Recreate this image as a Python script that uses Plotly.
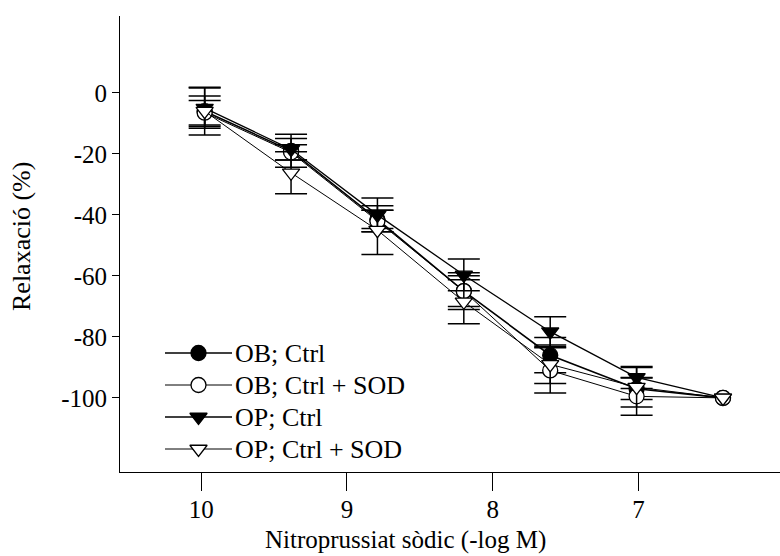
import plotly.graph_objects as go

# Data
conc = [10, 9.5, 9, 8.5, 8, 7.5, 7]
ob_ctrl = [-6, -19, -41.5, -65, -86, -97, -100]
ob_ctrl_err = [5, 5.4, 3, 5, 5.8, 3.5, None]
ob_sod = [-6.5, -19.5, -42, -65, -91, -99.5, -100]
ob_sod_err = [4, 2.5, 3.5, 6, 7.4, 6.2, None]
op_ctrl = [-5, -18.5, -40, -59.7, -78.3, -93.3, -100]
op_ctrl_err = [6.6, 3.5, 5.5, 5.2, 4.9, 3.6, None]
op_sod = [-6, -26.2, -45, -68.5, -89, -96.5, -100]
op_sod_err = [7.8, 6.9, 8, 7.2, 6.3, 6.5, None]

names = ["OB; Ctrl", "OB; Ctrl + SOD", "OP; Ctrl", "OP; Ctrl + SOD"]
tick_text = ["10", "9", "8", "7"]
y_ticks = [0, -20, -40, -60, -80, -100]

FONT = "Liberation Serif"
series = [
    (ob_ctrl, ob_ctrl_err, "circle", "black", 1.6),
    (ob_sod, ob_sod_err, "circle", "white", 1.0),
    (op_ctrl, op_ctrl_err, "triangle-down", "black", 1.3),
    (op_sod, op_sod_err, "triangle-down", "white", 1.0),
]

# plot area in pixels (used for layout only)
L, R, T, B = 120, 780, 16, 472
W, H = 780, 556

fig = go.Figure()
for (vals, errs, sym, fill, lw), nm in zip(series, names):
    # error bars only where an SEM exists (none at the last point)
    ex = [c for c, e in zip(conc, errs) if e is not None]
    ey = [v for v, e in zip(vals, errs) if e is not None]
    ee = [e for e in errs if e is not None]
    fig.add_trace(go.Scatter(
        x=ex, y=ey, mode="markers", showlegend=False, hoverinfo="skip",
        marker=dict(size=1, color="rgba(0,0,0,0)"),
        error_y=dict(type="data", array=ee, visible=True,
                     color="black", thickness=1.5, width=16),
    ))
    fig.add_trace(go.Scatter(
        x=conc, y=vals, name=nm, mode="lines+markers", showlegend=False,
        line=dict(color="black", width=lw),
        marker=dict(symbol=sym, size=15, color=fill,
                    line=dict(color="black", width=1.3)),
    ))

# custom legend (drawn on a hidden pixel-scaled overlay axis)
leg_x0, leg_x1, leg_row0, leg_dy = 165, 232, 353, 32
annotations = []
for i, ((vals, errs, sym, fill, lw), nm) in enumerate(zip(series, names)):
    ry = leg_row0 + leg_dy * i
    fig.add_trace(go.Scatter(
        x=[leg_x0, leg_x1], y=[ry, ry], mode="lines", xaxis="x2", yaxis="y3",
        showlegend=False, hoverinfo="skip", line=dict(color="black", width=lw)))
    fig.add_trace(go.Scatter(
        x=[(leg_x0 + leg_x1) / 2], y=[ry], mode="markers", xaxis="x2", yaxis="y3",
        showlegend=False, hoverinfo="skip",
        marker=dict(symbol=sym, size=15, color=fill, line=dict(color="black", width=1.3))))
    annotations.append(dict(text=nm, xref="paper", yref="paper",
                            x=(leg_x1 + 1 - L) / (R - L), y=(B - ry) / (B - T),
                            xanchor="left", yanchor="middle", showarrow=False,
                            font=dict(family=FONT, size=26, color="black")))

# axis geometry: x ticks are evenly spaced labels placed as in the original figure
x_left, x_right = 10.49, 6.67
tick_pos = [10.02 - 0.8435 * i for i in range(len(tick_text))]

annotations += [
    dict(text="Nitroprussiat sòdic (-log M)", xref="paper", yref="paper",
         x=(405 - L) / (R - L), y=(B - 540) / (B - T), xanchor="center", yanchor="middle",
         showarrow=False, font=dict(family=FONT, size=25, color="black")),
    dict(text="Relaxació (%)", xref="paper", yref="paper",
         x=(22 - L) / (R - L), y=(B - 236) / (B - T), xanchor="center", yanchor="middle",
         textangle=-90, showarrow=False, font=dict(family=FONT, size=26, color="black")),
]

fig.update_layout(
    width=W, height=H,
    margin=dict(l=L, r=W - R, t=T, b=H - B),
    paper_bgcolor="white", plot_bgcolor="white",
    font=dict(family=FONT, size=25, color="black"),
    showlegend=False,
    xaxis=dict(range=[x_left, x_right], showgrid=False, zeroline=False,
               showline=True, linecolor="black", linewidth=1,
               ticks="outside", ticklen=18, tickcolor="black", tickwidth=1,
               tickvals=tick_pos, ticktext=tick_text, ticklabelstandoff=-3,
               tickfont=dict(family=FONT, size=25, color="black")),
    yaxis=dict(range=[-124.3, 25.2], showgrid=False, zeroline=False,
               showline=True, linecolor="black", linewidth=1,
               ticks="outside", ticklen=7, tickcolor="black", tickwidth=1,
               tickvals=y_ticks, ticktext=[str(v) for v in y_ticks],
               tickfont=dict(family=FONT, size=25, color="black")),
    yaxis2=dict(range=[-124.3, 25.2], overlaying="y", anchor="x", side="left",
                showgrid=False, zeroline=False, showline=False,
                ticks="inside", ticklen=10, tickcolor="black", tickwidth=1,
                tickvals=y_ticks, showticklabels=False),
    xaxis2=dict(range=[L, R], overlaying="x", anchor="y3", visible=False),
    yaxis3=dict(range=[B, T], overlaying="y", anchor="x2", visible=False),
    annotations=annotations,
)
fig.write_html("out.html")
